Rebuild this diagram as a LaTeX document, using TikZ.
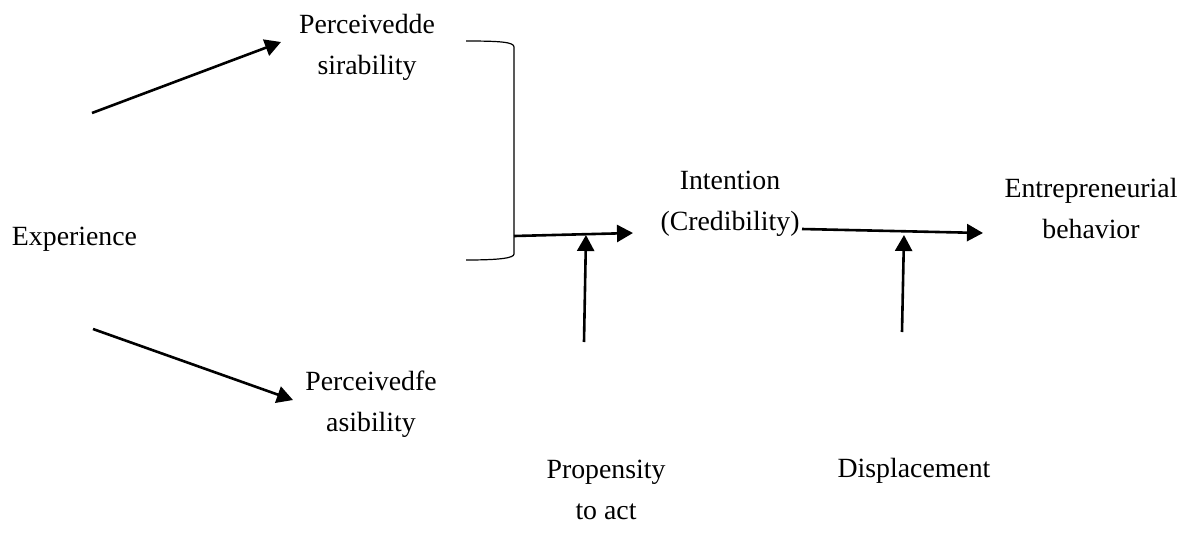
\documentclass[tikz,border=0pt]{standalone}
\usepackage{fontspec}
\setmainfont{Liberation Serif}
\usetikzlibrary{arrows.meta}
\begin{document}
\begin{tikzpicture}[x=1pt,y=-1pt,
  lbl/.style={inner sep=0pt, outer sep=0pt, anchor=base, align=center,
    font={\fontsize{27.8pt}{41pt}\selectfont}},
  arr/.style={line width=2.6pt, -{Triangle[length=16pt,width=17pt]}},
  brk/.style={line width=1.2pt}]
\fill[white] (0,0) rectangle (1189,539);
\useasboundingbox (0,0) rectangle (1189,539);

% texts (multi-line nodes: anchor = baseline of the last line)
\node[lbl, anchor=base west] (exp) at (12,245) {Experience};
\node[lbl] (des) at (367,74) {Perceivedde\\sirability};
\node[lbl] (fea) at (371,431) {Perceivedfe\\asibility};
\node[lbl] (int) at (730,230) {Intention\\(Credibility)};
\node[lbl] (ent) at (1091,238) {Entrepreneurial\\behavior};
\node[lbl] (pro) at (606,519) {Propensity\\to act};
\node[lbl] (dis) at (914,477) {Displacement};

% connector end points
\coordinate (a1s) at (92,113);   \coordinate (a1e) at (281,42);
\coordinate (a2s) at (93,329);   \coordinate (a2e) at (293,400);
\coordinate (bt) at (466,41);    \coordinate (bb) at (466,260);
\coordinate (bm) at (514,236);   \coordinate (ie) at (633,233);
\coordinate (p1s) at (584,342);  \coordinate (p1e) at (586,235);
\coordinate (cs) at (802,229);   \coordinate (ce) at (983,233);
\coordinate (d1s) at (902,332);  \coordinate (d1e) at (904,235);

% bracket
\draw[brk] (bt) .. controls (500,41) and (514,42) .. (514,47)
  -- (514,254) .. controls (514,258) and (500,260) .. (bb);

% arrows
\draw[arr] (a1s) -- (a1e);
\draw[arr] (a2s) -- (a2e);
\draw[arr] (bm) -- (ie);
\draw[arr] (p1s) -- (p1e);
\draw[arr] (cs) -- (ce);
\draw[arr] (d1s) -- (d1e);
\end{tikzpicture}
\end{document}
